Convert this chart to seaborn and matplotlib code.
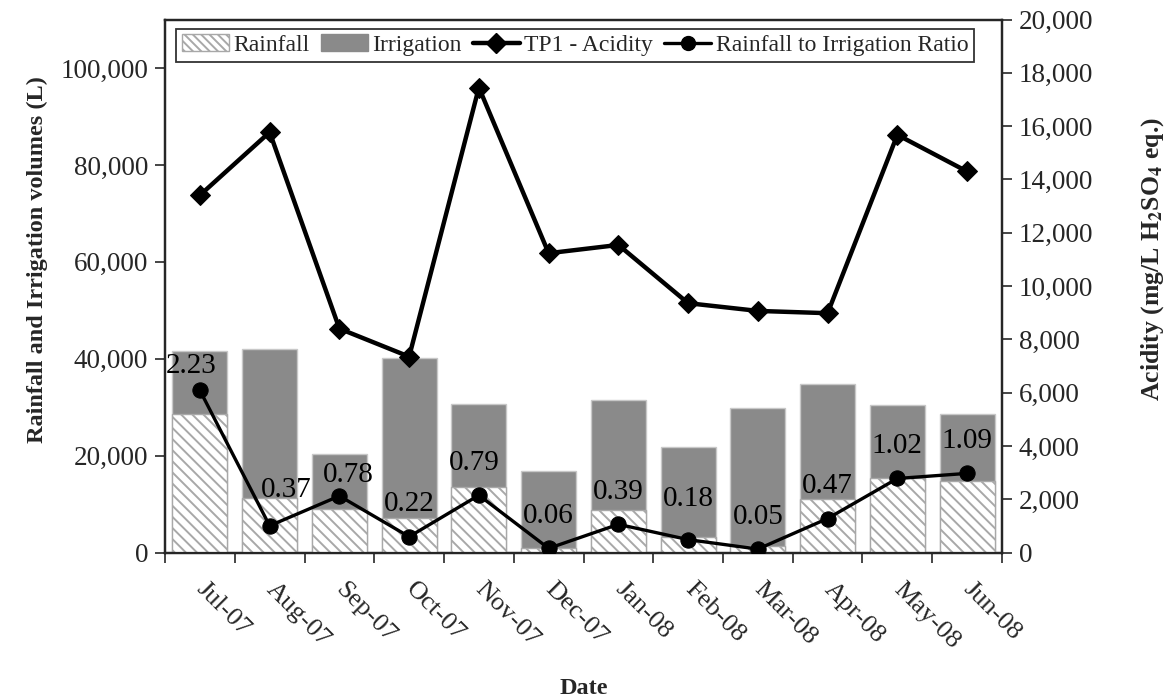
import numpy as np
import pandas as pd
import seaborn as sns
import matplotlib.pyplot as plt
from matplotlib.patches import Patch
from matplotlib.lines import Line2D
from matplotlib.ticker import FuncFormatter, FixedLocator

# values
months = ['Jul-07', 'Aug-07', 'Sep-07', 'Oct-07', 'Nov-07', 'Dec-07',
          'Jan-08', 'Feb-08', 'Mar-08', 'Apr-08', 'May-08', 'Jun-08']
rainfall = [28700, 11200, 8950, 7100, 13550, 950, 8850, 3300, 1420, 11100, 15400, 14880]
irrigation = [12900, 30800, 11480, 33020, 17150, 15900, 22700, 18450, 28400, 23700, 15100, 13680]
acidity = [13410, 15775, 8405, 7355, 17450, 11235, 11545, 9360, 9070, 8985, 15675, 14300]
ratio = [2.23, 0.37, 0.78, 0.22, 0.79, 0.06, 0.39, 0.18, 0.05, 0.47, 1.02, 1.09]

# label nudges (points) so the ratio labels sit like the original
label_dx = [-6, 12, 6.5, 0, -3, 0, 0, 0, 0, 0, 0, 0]
label_dy = [8, 16.5, 6, 14, 14, 14, 14, 20, 14, 14, 14, 14]

df = pd.DataFrame({'Month': months, 'Rainfall': rainfall, 'Irrigation': irrigation,
                   'Acidity': acidity, 'Ratio': ratio})
df['Total'] = df['Rainfall'] + df['Irrigation']
df['pos'] = np.arange(len(df))

sns.set_style('ticks')
plt.rcParams['font.family'] = ['Liberation Serif', 'DejaVu Serif']
plt.rcParams['mathtext.fontset'] = 'stix'
plt.rcParams['hatch.linewidth'] = 1.4

GREY = '#8a8a8a'
HATCH_GREY = '#a8a8a8'

fig = plt.figure(figsize=(11.73, 7.0), dpi=100)
ax = fig.add_axes([0.1407, 0.2104, 0.7135, 0.7617])

# stacked bars: total in grey, rainfall (hatched) drawn on top of it
sns.barplot(data=df, x='Month', y='Total', color=GREY, saturation=1, width=0.79,
            edgecolor='#c8c8c8', linewidth=1, ax=ax, zorder=2)
sns.barplot(data=df, x='Month', y='Rainfall', color='white', saturation=1, width=0.79,
            edgecolor=HATCH_GREY, linewidth=1, hatch='\\\\\\', ax=ax, zorder=3)

ax.set_ylim(0, 110000)
ax.set_xlim(-0.5, 11.5)
ax.set_yticks(np.arange(0, 100001, 20000))
ax.yaxis.set_major_formatter(FuncFormatter(lambda v, p: f'{int(v):,}'))
ax.set_xlabel('')
ax.set_ylabel('Rainfall and Irrigation volumes (L)', fontsize=17.5, fontweight='bold', labelpad=9)
ax.yaxis.label.set_y(0.55)

# x tick marks between categories, labels at centres
ax.set_xticks(df['pos'])
ax.set_xticklabels(months, rotation=-45, ha='left', va='center', rotation_mode='anchor')
ax.xaxis.set_minor_locator(FixedLocator(np.arange(-0.5, 12, 1)))
ax.tick_params(axis='x', which='major', length=0, pad=24, labelsize=19)
ax.tick_params(axis='x', which='minor', length=7, width=1.2, direction='out')
ax.tick_params(axis='y', length=7, width=1.2, direction='out', labelsize=19.5, pad=5)
for s in ax.spines.values():
    s.set_linewidth(1.6)
    s.set_color('black')

# acidity on right axis
ax2 = ax.twinx()
sns.lineplot(data=df, x='pos', y='Acidity', color='black', linewidth=3.2, marker='D',
             markersize=10, markeredgecolor='black', ax=ax2, sort=False, zorder=4)
ax2.set_ylim(0, 20000)
ax2.set_yticks(np.arange(0, 20001, 2000))
ax2.yaxis.set_major_formatter(FuncFormatter(lambda v, p: f'{int(v):,}'))
ax2.tick_params(axis='y', length=7, width=1.2, direction='out', labelsize=19.5, pad=5)
ax2.set_xlabel('')
ax2.set_ylabel(r'Acidity (mg/L H$_\mathbf{2}$SO$_\mathbf{4}$ eq.)', fontsize=18.5,
               fontweight='bold', labelpad=33)
ax2.yaxis.label.set_y(0.55)
for s in ax2.spines.values():
    s.set_linewidth(1.6)

# ratio line on a hidden third axis
ax3 = ax.twinx()
sns.lineplot(data=df, x='pos', y='Ratio', color='black', linewidth=2.4, marker='o',
             markersize=11, markeredgecolor='black', ax=ax3, sort=False, zorder=5)
ax3.set_ylim(0, 7.326)
ax3.axis('off')
for xp, r, dx, dy in zip(df['pos'], ratio, label_dx, label_dy):
    ax3.annotate(f'{r:.2f}', (xp, r), xytext=(dx, dy), textcoords='offset points',
                 ha='center', va='bottom', fontsize=21, color='black')

ax.set_xlim(-0.5, 11.5)

handles = [
    Patch(facecolor='white', edgecolor=HATCH_GREY, hatch='\\\\\\\\', label='Rainfall'),
    Patch(facecolor=GREY, edgecolor=GREY, label='Irrigation'),
    Line2D([], [], color='black', linewidth=3.2, marker='D', markersize=10, label='TP1 - Acidity'),
    Line2D([], [], color='black', linewidth=2.4, marker='o', markersize=10,
           label='Rainfall to Irrigation Ratio'),
]
leg = ax3.legend(handles=handles, loc='upper center', bbox_to_anchor=(0.49, 0.983), ncol=4,
                 fontsize=17, frameon=True, fancybox=False, edgecolor='black',
                 handlelength=2.0, handletextpad=0.2, columnspacing=0.45, borderpad=0.25,
                 borderaxespad=0)
leg.get_frame().set_linewidth(1.3)

fig.text(0.4975, 0.017, 'Date', ha='center', va='center', fontsize=17.5, fontweight='bold')

fig.savefig('out.png', dpi=100, facecolor='white')
